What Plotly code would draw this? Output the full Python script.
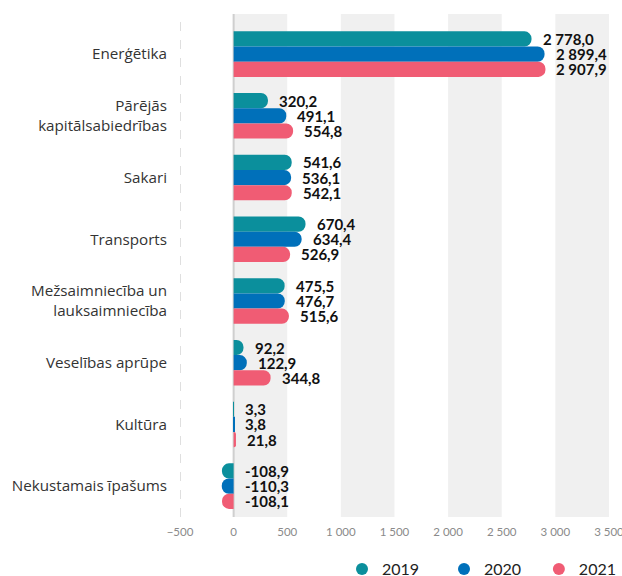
import plotly.graph_objects as go

categories = ["Enerģētika", "Pārējās<br>kapitālsabiedrības", "Sakari", "Transports",
              "Mežsaimniecība un<br>lauksaimniecība", "Veselības aprūpe", "Kultūra",
              "Nekustamais īpašums"]
years = ["2019", "2020", "2021"]
v2019 = [2778.0, 320.2, 541.6, 670.4, 475.5, 92.2, 3.3, -108.9]
v2020 = [2899.4, 491.1, 536.1, 634.4, 476.7, 122.9, 3.8, -110.3]
v2021 = [2907.9, 554.8, 542.1, 526.9, 515.6, 344.8, 21.8, -108.1]
colors = ["#0B8F9C", "#0070BA", "#F05C74"]
x_ticks = [-500, 0, 500, 1000, 1500, 2000, 2500, 3000, 3500]

series = [v2019, v2020, v2021]
bw = 0.246
n = len(categories)
legend_ids = ["legend", "legend2", "legend3"]

def fmt(v):
    return f"{v:,.1f}".replace(",", " ").replace(".", ",")

fig = go.Figure()
annotations = []
for k, (yr, vals, col) in enumerate(zip(years, series, colors)):
    ys = [i + (k - 1) * bw for i in range(n)]
    fig.add_trace(go.Bar(x=vals, y=ys, width=bw, orientation="h", marker=dict(color=col, line=dict(width=0)),
                         showlegend=False, hoverinfo="x"))
    fig.add_trace(go.Scatter(x=[None], y=[None], mode="markers", name=yr, legend=legend_ids[k],
                             marker=dict(color=col, size=12, symbol="circle")))
    for y, v in zip(ys, vals):
        annotations.append(dict(x=max(v, 0), y=y, text=fmt(v), showarrow=False, xanchor="left",
                                yanchor="middle", xshift=9,
                                font=dict(family="Lato", size=15, color="#111111", weight="bold")))

shapes = []
for a in range(0, 3500, 1000):
    shapes.append(dict(type="rect", xref="x", yref="paper", x0=a, x1=a + 500, y0=0, y1=1,
                       fillcolor="#F0F0F0", line=dict(width=0), layer="below"))
shapes.append(dict(type="line", xref="x", yref="paper", x0=0, x1=0, y0=0, y1=1,
                   line=dict(color="#CFCFCF", width=2), layer="below"))
shapes.append(dict(type="line", xref="x", yref="paper", x0=-500, x1=-500, y0=0, y1=1,
                   line=dict(color="#C0C0C0", width=1, dash="dash"), layer="below"))

legend_common = dict(orientation="h", y=-0.1034, yanchor="middle",
                     font=dict(family="Lato", size=16, color="#222222"), itemwidth=30,
                     bgcolor="rgba(0,0,0,0)")

fig.update_layout(
    width=622, height=576,
    margin=dict(l=180, r=13, t=14, b=59, autoexpand=False),
    plot_bgcolor="white", paper_bgcolor="white",
    separators=", ",
    barcornerradius=8,
    shapes=shapes, annotations=annotations,
    font=dict(family="Lato"),
    xaxis=dict(range=[-500, 3500.5], tickvals=x_ticks, tickformat=",d", showgrid=False, zeroline=False,
               showline=False, tickfont=dict(family="Lato", size=11.5, color="#8A8A8A"), ticks="",
               ticklabelstandoff=6, ticklabeloverflow="allow"),
    yaxis=dict(range=[7.5, -0.65], tickvals=list(range(n)), ticktext=categories, showgrid=False,
               zeroline=False, showline=False, ticks="", ticklabelstandoff=12,
               tickfont=dict(family="Open Sans", size=15.2, color="#333333")),
    legend=dict(legend_common, x=0.3776, xanchor="left"),
    legend2=dict(legend_common, x=0.6154, xanchor="left"),
    legend3=dict(legend_common, x=1.03, xanchor="right"),
)

fig.write_html("out.html", config={"displayModeBar": False},
               post_script="document.body.style.margin='0';document.body.style.overflow='hidden';")
